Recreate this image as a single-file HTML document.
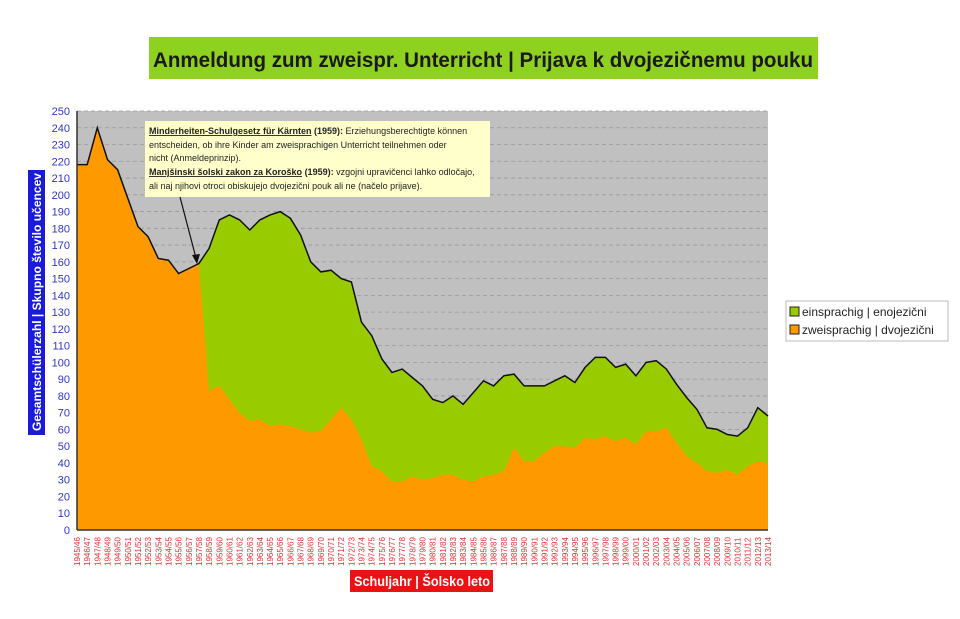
<!DOCTYPE html>
<html><head><meta charset="utf-8"><style>
body{margin:0;background:#fff;width:960px;height:614px;overflow:hidden;font-family:"Liberation Sans",sans-serif}
</style></head><body>
<svg id="s" width="960" height="614" xmlns="http://www.w3.org/2000/svg" font-family="Liberation Sans, sans-serif">
<rect x="149" y="37" width="669" height="42" fill="#8fd11f"/>
<text x="153" y="67" font-size="21" font-weight="bold" fill="#1a1a1a" textLength="660" lengthAdjust="spacingAndGlyphs">Anmeldung zum zweispr. Unterricht | Prijava k dvojezičnemu pouku</text>
<rect x="77" y="111" width="691" height="419" fill="#c0c0c0"/>
<g id="grid"></g>
<path id="gr" fill="#99cc00"/>
<path id="or" fill="#ff9900"/>
<path id="ln" fill="none" stroke="#111" stroke-width="1.5"/>
<line x1="77" y1="111" x2="77" y2="530" stroke="#333" stroke-width="1.5"/>
<line x1="77" y1="530" x2="768" y2="530" stroke="#333" stroke-width="1.5"/>
<g id="yt" font-size="11" fill="#3333cc" text-anchor="end"></g>
<g id="xt" font-size="8" fill="#dd3333"></g>
<rect x="28" y="170" width="17" height="265" fill="#1a1adb"/>
<text transform="translate(41,302) rotate(-90)" text-anchor="middle" font-size="12" font-weight="bold" fill="#fff" textLength="258" lengthAdjust="spacingAndGlyphs">Gesamtschülerzahl | Skupno število učencev</text>
<rect x="350" y="570" width="143" height="22" fill="#ee1111"/>
<text x="354" y="586" font-size="14" font-weight="bold" fill="#fff" textLength="136" lengthAdjust="spacingAndGlyphs">Schuljahr | Šolsko leto</text>
<rect x="145" y="121" width="345" height="76" fill="#ffffcc"/>
<g font-size="9" fill="#222">
<text x="149" y="134"><tspan font-weight="bold" text-decoration="underline">Minderheiten-Schulgesetz für Kärnten</tspan><tspan font-weight="bold"> (1959):</tspan> Erziehungsberechtigte können</text>
<text x="149" y="148">entscheiden, ob  ihre Kinder am zweisprachigen Unterricht  teilnehmen oder</text>
<text x="149" y="161">nicht (Anmeldeprinzip).</text>
<text x="149" y="175"><tspan font-weight="bold" text-decoration="underline">Manjšinski šolski zakon za Koroško</tspan><tspan font-weight="bold"> (1959):</tspan> vzgojni upravičenci lahko odločajo,</text>
<text x="149" y="189">ali naj njihovi otroci obiskujejo dvojezični pouk ali ne (načelo prijave).</text>
</g>
<line x1="180" y1="197" x2="196" y2="258" stroke="#111" stroke-width="1.2"/>
<polygon points="197,264 192,255 200,254" fill="#111"/>
<rect x="786" y="301" width="162" height="40" fill="#fff" stroke="#bbb"/>
<rect x="790" y="307" width="9" height="9" fill="#99cc00" stroke="#222"/>
<rect x="790" y="325" width="9" height="9" fill="#ff9900" stroke="#222"/>
<text x="802" y="316" font-size="12" fill="#222">einsprachig | enojezični</text>
<text x="802" y="334" font-size="12" fill="#222">zweisprachig | dvojezični</text>
</svg>
<script>
var T=[218,218,240,221,215,198,181,175,162,161,153,156,159,168,185,188,185,179,185,188,190,186,176,160,154,155,150,148,124,116,102,94,96,91,86,78,76,80,75,82,89,86,92,93,86,86,86,89,92,88,97,103,103,97,99,92,100,101,96,87,79,72,61,60,57,56,61,73,68];
var O=[218,218,240,221,215,198,181,175,162,161,153,156,159,83,86,78,70,65,66,62,63,62,60,58,59,66,73,66,54,38,35,29,29,32,30,31,33,33,30,29,32,33,35,49,41,41,46,50,50,49,55,54,56,53,55,51,59,59,61,52,44,40,35,34,36,33,38,41,40];
var ns="http://www.w3.org/2000/svg";
function X(i){return 77+i*691/68}function Y(v){return 530-v*419/250}
function pts(a){return a.map(function(v,i){return X(i).toFixed(1)+","+Y(v).toFixed(1)}).join(" L")}
document.getElementById("gr").setAttribute("d","M"+pts(T)+" L768,530 L77,530Z");
document.getElementById("or").setAttribute("d","M"+pts(O)+" L768,530 L77,530Z");
document.getElementById("ln").setAttribute("d","M"+pts(T));
var g=document.getElementById("grid"),yt=document.getElementById("yt"),xt=document.getElementById("xt");
for(var v=0;v<=250;v+=10){var y=Y(v);
 if(v>0){var l=document.createElementNS(ns,"line");l.setAttribute("x1",77);l.setAttribute("x2",768);l.setAttribute("y1",y);l.setAttribute("y2",y);l.setAttribute("stroke","#999");l.setAttribute("stroke-dasharray","4,3");l.setAttribute("stroke-width","0.8");g.appendChild(l);}
 var t=document.createElementNS(ns,"text");t.setAttribute("x",70);t.setAttribute("y",y+4);t.textContent=v;yt.appendChild(t);}
for(var i=0;i<69;i++){var a=1945+i,b=(a+1)%100;var s=a+"/"+(b<10?"0"+b:b);
 var t=document.createElementNS(ns,"text");var x=X(i)+3;t.setAttribute("transform","translate("+x+",566) rotate(-90)");t.textContent=s;xt.appendChild(t);}
</script>
</body></html>
